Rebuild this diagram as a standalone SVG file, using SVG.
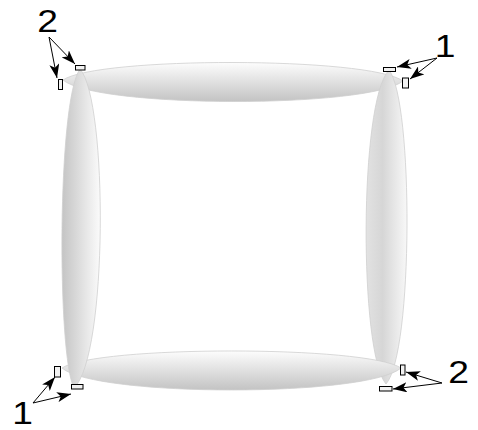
<svg xmlns="http://www.w3.org/2000/svg" width="478" height="430" viewBox="0 0 478 430">
<style>
.bar{stroke:#cfcfcf;stroke-width:0.8}
.pad{fill:#f2f2f2;stroke:#000;stroke-width:1}
.arr{stroke:#000;stroke-width:1;fill:none;marker-end:url(#ah)}
.num{font-family:"Liberation Sans",Arial,sans-serif;font-size:31px;fill:#000;text-anchor:middle}
</style>
<defs>
<linearGradient id="gh" x1="0" y1="0" x2="0" y2="1">
<stop offset="0" stop-color="#fdfdfd"/><stop offset="1" stop-color="#c3c3c3"/>
</linearGradient>
<linearGradient id="gl" x1="0" y1="0" x2="1" y2="0">
<stop offset="0" stop-color="#c4c4c4"/><stop offset="1" stop-color="#fbfbfb"/>
</linearGradient>
<linearGradient id="gr" x1="0" y1="0" x2="1" y2="0">
<stop offset="0" stop-color="#e2e2e2"/><stop offset="0.4" stop-color="#d6d6d6"/><stop offset="1" stop-color="#f8f8f8"/>
</linearGradient>
<marker id="ah" viewBox="0 0 14 10" refX="14" refY="5" markerWidth="14" markerHeight="10" markerUnits="userSpaceOnUse" orient="auto">
<path d="M0,0 L14,5 L0,10 L3.5,5 Z" fill="#000"/>
</marker>
</defs>
<g id="bar-top"><path class="bar" fill="url(#gh)" d="M63,80 C97,56.5 369,56.5 403,81 C369,108.5 97,108.5 63,80 Z"/></g>
<g id="bar-right"><path class="bar" fill="url(#gr)" d="M389,70 C359,101 359,353 386,384 C413.5,353 413.5,101 389,70 Z"/></g>
<g id="bar-bottom"><path class="bar" fill="url(#gh)" d="M62,368 C96,345.3 367,345.3 401,368 C367,397.3 96,397.3 62,368 Z"/></g>
<g id="bar-left"><path class="bar" fill="url(#gl)" d="M80,69 C57,101 57,356 74,388 C108,356 108,101 80,69 Z"/></g>
<g id="pads">
<rect class="pad" x="75.5" y="65.5" width="9.5" height="4.5"/>
<rect class="pad" x="58.5" y="79.5" width="4" height="10"/>
<rect class="pad" x="383.5" y="67.5" width="12" height="4"/>
<rect class="pad" x="402.5" y="78" width="6" height="10"/>
<rect class="pad" x="54.5" y="366.5" width="6" height="10.5"/>
<rect class="pad" x="71.5" y="384.5" width="11.5" height="4.5"/>
<rect class="pad" x="400.5" y="365" width="4.5" height="10"/>
<rect class="pad" x="379.5" y="386.5" width="12.5" height="4.5"/>
</g>
<g id="connectors">
<line class="arr" x1="49" y1="37" x2="75" y2="64"/>
<line class="arr" x1="49" y1="37" x2="57" y2="78"/>
<line class="arr" x1="437" y1="58" x2="397" y2="67"/>
<line class="arr" x1="437" y1="58" x2="410" y2="79"/>
<line class="arr" x1="33" y1="403" x2="55" y2="377"/>
<line class="arr" x1="33" y1="403" x2="71" y2="394"/>
<line class="arr" x1="442" y1="383" x2="406" y2="372"/>
<line class="arr" x1="442" y1="383" x2="393" y2="389"/>
</g>
<g id="labels">
<text class="num" transform="translate(47.5,32) scale(1.2,1)">2</text>
<text class="num" transform="translate(445,57) scale(1.2,1)">1</text>
<text class="num" transform="translate(22.5,424) scale(1.2,1)">1</text>
<text class="num" transform="translate(458.5,383) scale(1.2,1)">2</text>
</g>
</svg>
